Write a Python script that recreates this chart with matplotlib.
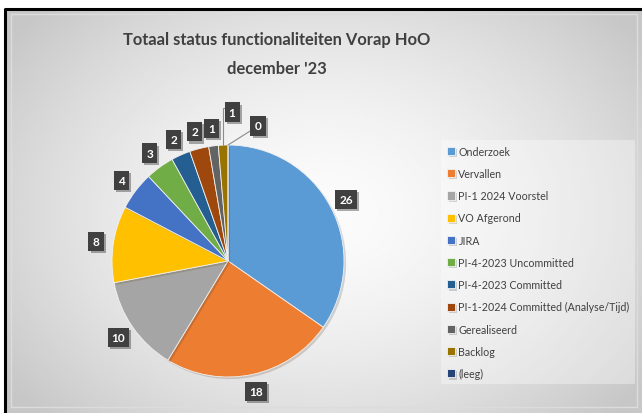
import matplotlib.pyplot as plt
import matplotlib.patheffects as pe
import numpy as np

# data
categories = ["Onderzoek", "Vervallen", "PI-1 2024 Voorstel", "VO Afgerond", "JIRA",
              "PI-4-2023 Uncommitted", "PI-4-2023 Committed",
              "PI-1-2024 Committed (Analyse/Tijd)", "Gerealiseerd", "Backlog", "(leeg)"]
values = [26, 18, 10, 8, 4, 3, 2, 2, 1, 1, 0]
colors = ["#5B9BD5", "#ED7D31", "#A5A5A5", "#FFC000", "#4472C4", "#70AD47",
          "#255E91", "#9E480E", "#636363", "#997300", "#264478"]
title = "Totaal status functionaliteiten Vorap HoO\ndecember '23"

W, H = 642, 414
fig = plt.figure(figsize=(W / 100, H / 100), dpi=100)
fig.patch.set_facecolor("white")
ax = fig.add_axes([0, 0, 1, 1])

# achtergrond: radiale gradient
yy, xx = np.mgrid[0:200, 0:320]
d = np.sqrt(((xx - 160) / 175.0) ** 2 + ((yy - 100) / 130.0) ** 2)
grad = np.clip(0.985 - 0.17 * d ** 1.6, 0.78, 1)
ax.imshow(grad, cmap="gray", vmin=0, vmax=1, extent=(6, W, 0, H - 11),
          zorder=0, aspect="auto", interpolation="bilinear")
# zwarte rand links/boven
ax.plot([5, 5, W], [0, H - 10, H - 10], color="black", lw=2.2, zorder=1)
ax.plot([11, 11, W - 5, W - 5, 11], [6, H - 15, H - 15, 6, 6],
        color="#dcdcdc", lw=1, zorder=1)

cx, cy, r = 228, 152, 116
wedges, _ = ax.pie(values, colors=colors, startangle=90, counterclock=False,
                   center=(cx, cy), radius=r, frame=True,
                   wedgeprops=dict(edgecolor="#f2f2f2", linewidth=0.6))
for w in wedges:
    w.set_zorder(3)
    w.set_path_effects([pe.SimplePatchShadow(offset=(1.5, -1.5), alpha=0.18), pe.Normal()])

box = dict(boxstyle="square,pad=0.35", fc="#404040", ec="none")
shadow = [pe.withSimplePatchShadow(offset=(1.5, -1.5), alpha=0.35)]
total = sum(values)
cum = 0
for i, v in enumerate(values):
    mid = 90 - (cum + v / 2) / total * 360
    cum += v
    a = np.deg2rad(mid)
    if i < 9:
        t = ax.text(cx + 1.15 * r * np.cos(a), cy + 1.15 * r * np.sin(a), str(v),
                    ha="center", va="center", color="white", fontsize=8.5,
                    fontweight="bold", family="Lato", bbox=box, zorder=5)
    else:
        off = (9, 33) if i == 9 else (30, 19)
        rel = (0, 0.9) if i == 9 else (0, 0.3)
        cs = "angle,angleA=180,angleB=90,rad=0" if i == 9 else "arc3"
        t = ax.annotate(str(v), xy=(cx + r * np.cos(a), cy + r * np.sin(a)),
                        xytext=off, textcoords="offset pixels",
                        ha="center", va="center", color="white", fontsize=8.5,
                        fontweight="bold", family="Lato", bbox=box, zorder=5,
                        arrowprops=dict(arrowstyle="-", color="#8c8c8c", lw=0.8,
                                        connectionstyle=cs, relpos=rel,
                                        shrinkA=0, shrinkB=0))
    t.get_bbox_patch().set_path_effects(shadow)

ax.set_xlim(0, W)
ax.set_ylim(0, H)
ax.set_aspect("auto")
ax.axis("off")

ax.text(277, H - 55, title, ha="center", va="center", fontsize=11.9,
        fontweight="bold", family="Lato", color="#404040", linespacing=2.0, zorder=4)

leg = ax.legend(wedges, categories, loc="upper left",
                bbox_to_anchor=(436 / W, 1 - 136 / H), frameon=True,
                fancybox=False, framealpha=0.35, facecolor="white", edgecolor="none",
                prop=dict(family="Lato", size=7.7), labelcolor="#404040",
                handlelength=0.8, handleheight=0.8, handletextpad=0.3,
                labelspacing=1.05, borderpad=0.5)
leg.set_zorder(4)

fig.savefig("out.png", dpi=100)
